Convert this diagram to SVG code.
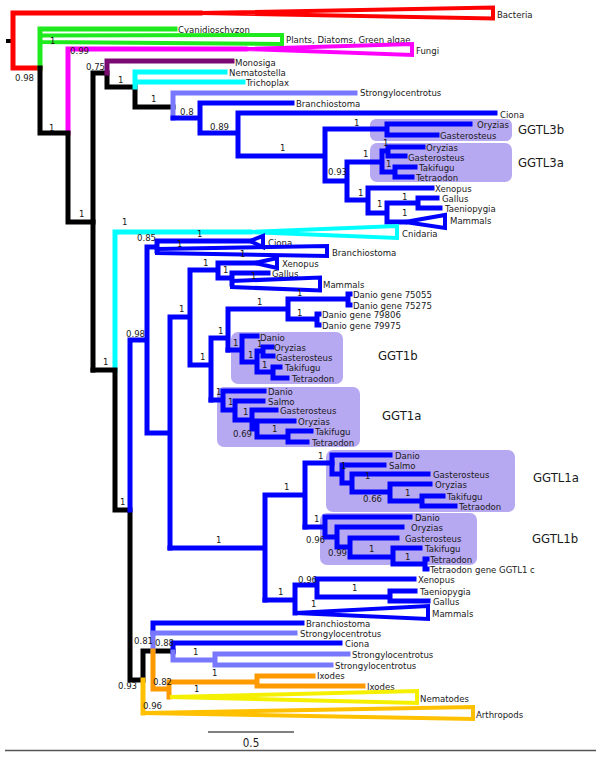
<svg xmlns="http://www.w3.org/2000/svg" width="601" height="757" viewBox="0 0 601 757">
<style>
text{font-family:"DejaVu Sans Condensed","DejaVu Sans","Liberation Sans",sans-serif;font-size:9.5px;fill:#1a1a1a}
.big{font-size:13px}
.sb{font-size:11.5px}
.c path{fill:none;stroke-width:5;stroke-linecap:square;stroke-linejoin:miter}
.tri{fill:none;stroke-width:4;stroke-linejoin:miter}
.k{stroke:#000}.r{stroke:#f00}.g{stroke:#1eea1e}.m{stroke:#f0f}.p{stroke:#7a0a72}.cy{stroke:#0ff}.lb{stroke:#7878ff}.b{stroke:#00f}.o{stroke:#ff9900}.y{stroke:#f5f000}.a{stroke:#ffc000}
.box{fill:#b7a8f2}
</style>
<rect width="601" height="757" fill="#fff"/>
<g id="clade-boxes">
<g id="box-GGTL3b"><rect class="box" x="370" y="119" width="142" height="22" rx="6"/><text class="big" x="518" y="134">GGTL3b</text></g>
<g id="box-GGTL3a"><rect class="box" x="370" y="143" width="142" height="39" rx="7"/><text class="big" x="518" y="167">GGTL3a</text></g>
<g id="box-GGT1b"><rect class="box" x="231" y="332" width="112" height="52" rx="7"/><text class="big" x="378" y="360">GGT1b</text></g>
<g id="box-GGT1a"><rect class="box" x="217" y="387" width="143" height="60" rx="7"/><text class="big" x="382" y="420">GGT1a</text></g>
<g id="box-GGTL1a"><rect class="box" x="326" y="450" width="189" height="62" rx="7"/><text class="big" x="533" y="482">GGTL1a</text></g>
<g id="box-GGTL1b"><rect class="box" x="320" y="513" width="157" height="52" rx="7"/><text class="big" x="532" y="543">GGTL1b</text></g>
</g>
<g id="connectors" class="c">
<path class="k" style="stroke-width:4" d="M8,41 H13"/>
<path class="r" d="M40,68 H13 V13 H200"/>
<path class="g" d="M40,68 V29 H175"/>
<path class="m" d="M68,133 V49 H245"/>
<path class="k" d="M40,68 V133 H68 V222 H93"/>
<path class="k" d="M93,370 V73 H107 V87 H135 V107 H173"/>
<path class="p" d="M107,73 V61 H232"/>
<path class="cy" d="M135,87 V72 H225 M135,82 H243"/>
<path class="lb" d="M173,118 V93 H355"/>
<path class="b" d="M173,118 H200 M200,133 V103 H292 M200,133 H238 M238,156 V113 H495 M238,156 H325 M325,181 V129 H387 M387,124 V135 M387,124 H470 M387,135 H437 M325,181 H347 M347,162 V200 M347,162 H382 M382,151 V172 M382,151 H388 M388,147 V156 M388,147 H423 M388,156 H405 M382,172 H395 M395,167 V177 M395,167 H415 M395,177 H412 M347,200 H368 M368,188 V213 M368,188 H432 M368,213 H387 M387,203 V222 M387,203 H418 M418,198 V208 M418,198 H437 M418,208 H440 M387,222 H405"/>
<path class="cy" d="M115,370 V232 H250"/>
<path class="k" d="M93,370 H115 V510 H130 V680 H143 V651 H173"/>
<path class="b" d="M130,510 V340 H147 M147,433 V247 H157 M157,241 V251 M157,241 H250 M147,433 H170 M170,548 V317 H190 M190,365 V270 H218 M218,263 V278 H232 M218,263 H255 M232,273 V284 M232,273 H268 M190,365 H211 M211,338 V400 M211,338 H228 M228,309 V350 M228,309 H288 M288,299 V319 M288,299 H348 M348,294 V305 M348,294 H350 M348,305 H350 M288,319 H317 M317,314 V325 M317,314 H319 M317,325 H319"/>
<path class="b" d="M228,350 H242 M242,336 V362 M242,336 H257 M242,362 H257 M257,351 V372 M257,351 H263 M263,347 V356 M263,347 H272 M263,356 H273 M257,372 H273 M273,367 V378 M273,367 H280 M273,378 H287"/>
<path class="b" d="M211,400 H223 M223,391 V410 M223,391 H264 M223,410 H235 M235,401 V420 M235,401 H263 M235,420 H252 M252,410 V429 M252,410 H276 M252,429 H257 M257,421 V437 M257,421 H294 M257,437 H288 M288,431 V442 M288,431 H311 M288,442 H307"/>
<path class="b" d="M170,548 H265 M265,495 V600 M265,495 H305 M305,463 V527 M305,463 H332"/>
<path class="b" d="M332,455 V474 M332,455 H390 M332,474 H342 M342,465 V483 M342,465 H384 M342,483 H352 M352,474 V492 M352,474 H428 M352,492 H390 M390,484 V501 M390,484 H430 M390,501 H422 M422,496 V506 M422,496 H443 M422,506 H455"/>
<path class="b" d="M305,527 H325 M325,517 V537 M325,517 H410 M325,537 H337 M337,527 V547 M337,527 H402 M337,547 H350 M350,538 V557 M350,538 H397 M350,557 H393 M393,548 V564 M393,548 H420 M393,564 H425 M425,559 V569 M425,559 H427 M425,569 H427"/>
<path class="b" d="M265,600 H295 M295,585 V613 M295,585 H317 M317,579 V597 M317,579 H414 M317,597 H390 M390,591 V601 M390,591 H415 M390,601 H428"/>
<path class="b" d="M153,633 V623 H302"/>
<path class="lb" d="M153,651 V633 H295"/>
<path class="b" d="M173,652 V643 H340"/>
<path class="lb" d="M173,652 V660 H215 M215,654 V665 M215,654 H348 M215,665 H331"/>
<path class="o" d="M153,651 V689 H169 M169,682 V697 M169,682 H257 M257,676 V686 M257,676 H313 M257,686 H363"/>
<path class="a" d="M143,680 V713"/>
</g>
<g id="leaves">
<g id="n-bacteria"><polygon class="tri r" points="200,13 493,7.5 493,18.5"/><text x="497" y="17.5">Bacteria</text></g>
<g id="n-cyanidioschyzon"><text x="178" y="32.5">Cyanidioschyzon</text></g>
<g id="n-plants"><polygon class="tri g" points="40,35.5 282,35 282,44 40,42"/><text x="286" y="42.5">Plants, Diatoms, Green algae</text></g>
<g id="n-fungi"><polygon class="tri m" points="245,49 412,44 412,55"/><text x="416" y="53.5">Fungi</text></g>
<g id="n-monosiga"><text x="235" y="65.5">Monosiga</text></g>
<g id="n-nematostella"><text x="229" y="75.5">Nematostella</text></g>
<g id="n-trichoplax"><text x="246" y="85.5">Trichoplax</text></g>
<g id="n-strongy1"><text x="360" y="96">Strongylocentrotus</text></g>
<g id="n-branchio1"><text x="296" y="106.5">Branchiostoma</text></g>
<g id="n-ciona1"><text x="500" y="117.5">Ciona</text></g>
<g id="n-l3b"><text x="477" y="127.5">Oryzias</text><text x="440" y="138.5">Gasterosteus</text></g>
<g id="n-l3a"><text x="426" y="150.5">Oryzias</text><text x="408" y="160.5">Gasterosteus</text><text x="419" y="170.5">Takifugu</text><text x="416" y="180.5">Tetraodon</text></g>
<g id="n-verts1"><text x="435" y="191.5">Xenopus</text><text x="442" y="201.5">Gallus</text><text x="445" y="211.5">Taeniopygia</text></g>
<g id="n-mammals1"><polygon class="tri b" points="405,222 445,215 445,228"/><text x="450" y="223.5">Mammals</text></g>
<g id="n-cnidaria"><polygon class="tri cy" points="250,232 397,226 397,238"/><text x="402" y="236.5">Cnidaria</text></g>
<g id="n-ciona2"><polygon class="tri b" points="250,241 263,236 263,247"/><text x="268" y="245.5">Ciona</text></g>
<g id="n-branchio2"><polygon class="tri b" points="157,249 327,246 327,256 157,253"/><text x="332" y="255.5">Branchiostoma</text></g>
<g id="n-xenopus2"><polygon class="tri b" points="255,263 277,258 277,268"/><text x="282" y="266.5">Xenopus</text></g>
<g id="n-gallus2"><text x="272" y="276.5">Gallus</text></g>
<g id="n-mammals2"><polygon class="tri b" points="232,281 320,277.5 320,290.5 232,287"/><text x="323" y="287.5">Mammals</text></g>
<g id="n-danio-genes"><text x="353" y="297.5">Danio gene 75055</text><text x="353" y="308.5">Danio gene 75275</text><text x="322" y="317.5">Danio gene 79806</text><text x="322" y="328.5">Danio gene 79975</text></g>
<g id="n-ggt1b"><text x="260" y="340.5">Danio</text><text x="274" y="350.5">Oryzias</text><text x="276" y="360.5">Gasterosteus</text><text x="285" y="370.5">Takifugu</text><text x="292" y="381.5">Tetraodon</text></g>
<g id="n-ggt1a"><text x="268" y="394.5">Danio</text><text x="268" y="404.5">Salmo</text><text x="280" y="413.5">Gasterosteus</text><text x="298" y="424.5">Oryzias</text><text x="315" y="434.5">Takifugu</text><text x="312" y="445.5">Tetraodon</text></g>
<g id="n-ggtl1a"><text x="395" y="458.5">Danio</text><text x="389" y="468.5">Salmo</text><text x="433" y="477.5">Gasterosteus</text><text x="435" y="487.5">Oryzias</text><text x="447" y="499.5">Takifugu</text><text x="459" y="509.5">Tetraodon</text></g>
<g id="n-ggtl1b"><text x="415" y="520.5">Danio</text><text x="411" y="530.5">Oryzias</text><text x="405" y="541.5">Gasterosteus</text><text x="425" y="551.5">Takifugu</text><text x="430" y="562.5">Tetraodon</text><text x="430" y="572.5">Tetraodon gene GGTL1 c</text></g>
<g id="n-verts3"><text x="418" y="582.5">Xenopus</text><text x="420" y="594.5">Taeniopygia</text><text x="433" y="604.5">Gallus</text></g>
<g id="n-mammals3"><polygon class="tri b" points="295,613 428,606 428,619"/><text x="432" y="616.5">Mammals</text></g>
<g id="n-bottom"><text x="306" y="626.5">Branchiostoma</text><text x="300" y="636.5">Strongylocentrotus</text><text x="345" y="646.5">Ciona</text><text x="352" y="657.5">Strongylocentrotus</text><text x="335" y="668.5">Strongylocentrotus</text><text x="317" y="678.5">Ixodes</text><text x="367" y="689.5">Ixodes</text></g>
<g id="n-nematodes"><polygon class="tri y" points="170,697 417,691 417,703"/><text x="420" y="701.5">Nematodes</text></g>
<g id="n-arthropods"><polygon class="tri a" points="143,713 473,707 473,719"/><text x="476" y="717.5">Arthropods</text></g>
</g>
<g id="support">
<text x="15" y="81">0.98</text><text x="50" y="44">1</text><text x="70" y="54">0.99</text><text x="49" y="131">1</text><text x="79" y="217">1</text>
<text x="86" y="70">0.75</text><text x="118" y="83">1</text><text x="151" y="102">1</text><text x="180" y="115">0.8</text><text x="210" y="130">0.89</text><text x="280" y="151">1</text>
<text x="354" y="126">1</text><text x="363" y="157">1</text><text x="328" y="175">0.93</text><text x="383" y="146">1</text><text x="386" y="167">1</text>
<text x="358" y="196">1</text><text x="377" y="207">1</text><text x="402" y="200">1</text><text x="402" y="216">1</text>
<text x="122" y="225">1</text><text x="103" y="365">1</text><text x="120" y="505">1</text><text x="126" y="337">0.98</text>
<text x="137" y="241">0.85</text><text x="197" y="237">1</text><text x="177" y="247">1</text><text x="240" y="257">1</text>
<text x="203" y="266">1</text><text x="223" y="273">1</text><text x="251" y="279">1</text>
<text x="297" y="296">1</text><text x="257" y="305">1</text><text x="297" y="316">1</text><text x="179" y="312">1</text><text x="218" y="334">1</text><text x="200" y="360">1</text>
<text x="233" y="346">1</text><text x="257" y="347">1</text><text x="248" y="358">1</text><text x="262" y="368">1</text>
<text x="216" y="395">1</text><text x="228" y="405">1</text><text x="243" y="415">1</text><text x="233" y="437">0.69</text><text x="272" y="432">1</text>
<text x="216" y="543">1</text><text x="284" y="490">1</text><text x="278" y="595">1</text>
<text x="318" y="459">1</text><text x="341" y="469">1</text><text x="365" y="479">1</text><text x="363" y="502">0.66</text><text x="405" y="496">1</text>
<text x="314" y="522">1</text><text x="306" y="543">0.96</text><text x="328" y="556">0.99</text><text x="369" y="552">1</text><text x="405" y="560">1</text>
<text x="298" y="583">0.96</text><text x="352" y="591">1</text><text x="311" y="607">1</text>
<text x="134" y="644">0.81</text><text x="155" y="646">0.88</text><text x="193" y="655">1</text><text x="212" y="676">1</text><text x="118" y="689">0.93</text><text x="153" y="685">0.82</text><text x="194" y="692">1</text><text x="143" y="709">0.96</text>
</g>
<g id="scale">
<line x1="208" y1="732" x2="294" y2="732" stroke="#000" stroke-width="1"/>
<text class="sb" x="251" y="747" text-anchor="middle">0.5</text>
<line x1="5" y1="750.5" x2="596" y2="750.5" stroke="#555" stroke-width="1.5"/>
</g>
</svg>
